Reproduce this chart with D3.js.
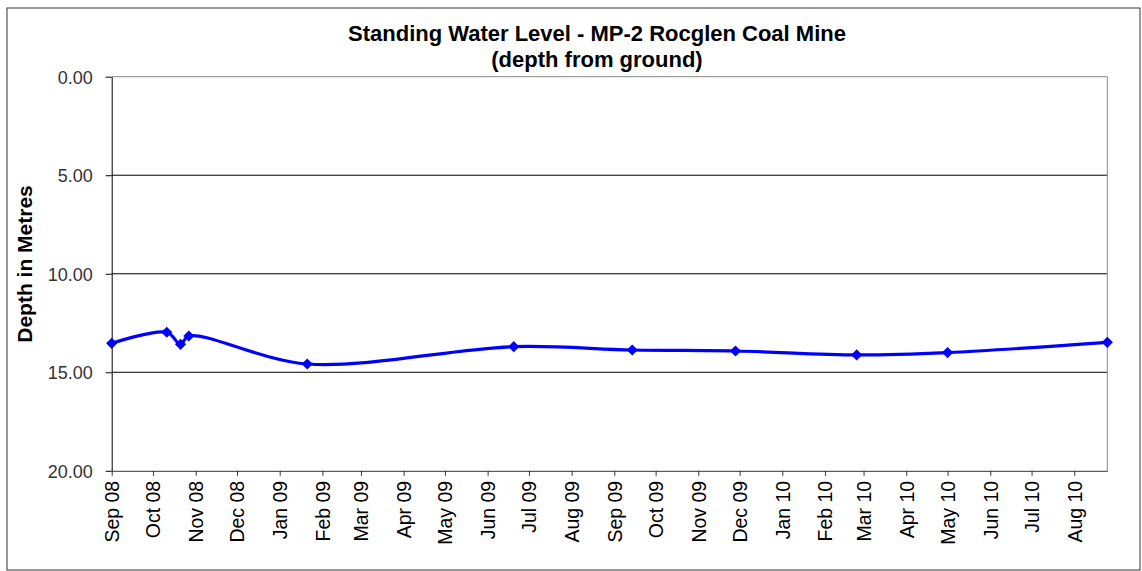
<!DOCTYPE html>
<html><head><meta charset="utf-8">
<script src="https://cdn.jsdelivr.net/npm/d3@7"></script>
<style>body{margin:0;background:#fff}svg{display:block}text{font-family:Arial,"Liberation Sans",sans-serif}</style>
</head><body><svg id="c" width="1142" height="571"></svg>
<script>
const dates = ["2008-09-01","2008-10-11","2008-10-21","2008-10-27","2009-01-21","2009-06-20","2009-09-14","2009-11-28","2010-02-24","2010-05-01","2010-08-25"];
const depths = [13.53,12.97,13.58,13.16,14.58,13.70,13.87,13.92,14.12,14.00,13.48];
const yTicks = [0,5,10,15,20];
const monthLabels = ["Sep 08","Oct 08","Nov 08","Dec 08","Jan 09","Feb 09","Mar 09","Apr 09","May 09","Jun 09","Jul 09","Aug 09","Sep 09","Oct 09","Nov 09","Dec 09","Jan 10","Feb 10","Mar 10","Apr 10","May 10","Jun 10","Jul 10","Aug 10"];
const title1 = "Standing Water Level - MP-2 Rocglen Coal Mine";
const title2 = "(depth from ground)";
const yTitle = "Depth in Metres";

const parse = d3.utcParse("%Y-%m-%d");
const data = dates.map((d,i)=>({date:parse(d), v:depths[i]}));
const svg = d3.select("#c");
const L=111.7, R=1107.3, T=76.7, B=470.8;

svg.append("rect").attr("x",7).attr("y",8).attr("width",1133).attr("height",562)
  .attr("fill","#fff").attr("stroke","#333").attr("stroke-width",1);

const x = d3.scaleUtc().domain([data[0].date, data[data.length-1].date]).range([L,R]);
const y = d3.scaleLinear().domain([0,20]).range([T,B]);

// gridlines
svg.append("g").selectAll("line").data(yTicks.filter(t=>t>0&&t<20)).join("line")
  .attr("x1",L).attr("x2",R).attr("y1",d=>y(d)).attr("y2",d=>y(d))
  .attr("stroke","#000").attr("stroke-width",1);
// plot border top/right
svg.append("path").attr("d",`M${L},${T}H${R}V${B}`).attr("fill","none").attr("stroke","#888").attr("stroke-width",1);

// y axis
const ya = svg.append("g").attr("transform",`translate(${L},0)`)
  .call(d3.axisLeft(y).tickValues(yTicks).tickFormat(d3.format(".2f")).tickSize(6).tickSizeOuter(0));
ya.select(".domain").attr("stroke","#000");
ya.selectAll(".tick line").attr("stroke","#000");
ya.selectAll("text").attr("font-size",18).attr("fill","#333").attr("x",-19).attr("dy","0.35em");

// x axis
const months = monthLabels.map((m,i)=>d3.utcMonth.offset(data[0].date,i));
const xa = svg.append("g").attr("transform",`translate(0,${B})`)
  .call(d3.axisBottom(x).tickValues(months).tickFormat((d,i)=>monthLabels[i]).tickSize(5).tickSizeOuter(0));
xa.select(".domain").attr("stroke","#333");
xa.selectAll(".tick line").attr("stroke","#333");
xa.selectAll("text").attr("font-size",19.5).attr("fill","#000")
  .attr("transform","rotate(-90)").attr("text-anchor","end").attr("x",-10).attr("y",0).attr("dy","0.35em");

// line
const line = d3.line().x(d=>x(d.date)).y(d=>y(d.v)).curve(d3.curveCatmullRom.alpha(0.5));
svg.append("path").datum(data).attr("d",line).attr("fill","none").attr("stroke","#0000ff").attr("stroke-width",3.2);
svg.append("g").selectAll("path").data(data).join("path")
  .attr("transform",d=>`translate(${x(d.date)},${y(d.v)})`)
  .attr("d",d3.symbol(d3.symbolDiamond2,80))
  .attr("fill","#0000ff");

// titles
svg.append("text").attr("x",597).attr("y",41).attr("text-anchor","middle").attr("font-size",22).attr("font-weight","bold").text(title1);
svg.append("text").attr("x",597).attr("y",67).attr("text-anchor","middle").attr("font-size",22).attr("font-weight","bold").text(title2);
svg.append("text").attr("transform",`translate(32,${264}) rotate(-90)`).attr("text-anchor","middle")
  .attr("font-size",21).attr("font-weight","bold").text(yTitle);
</script></body></html>
